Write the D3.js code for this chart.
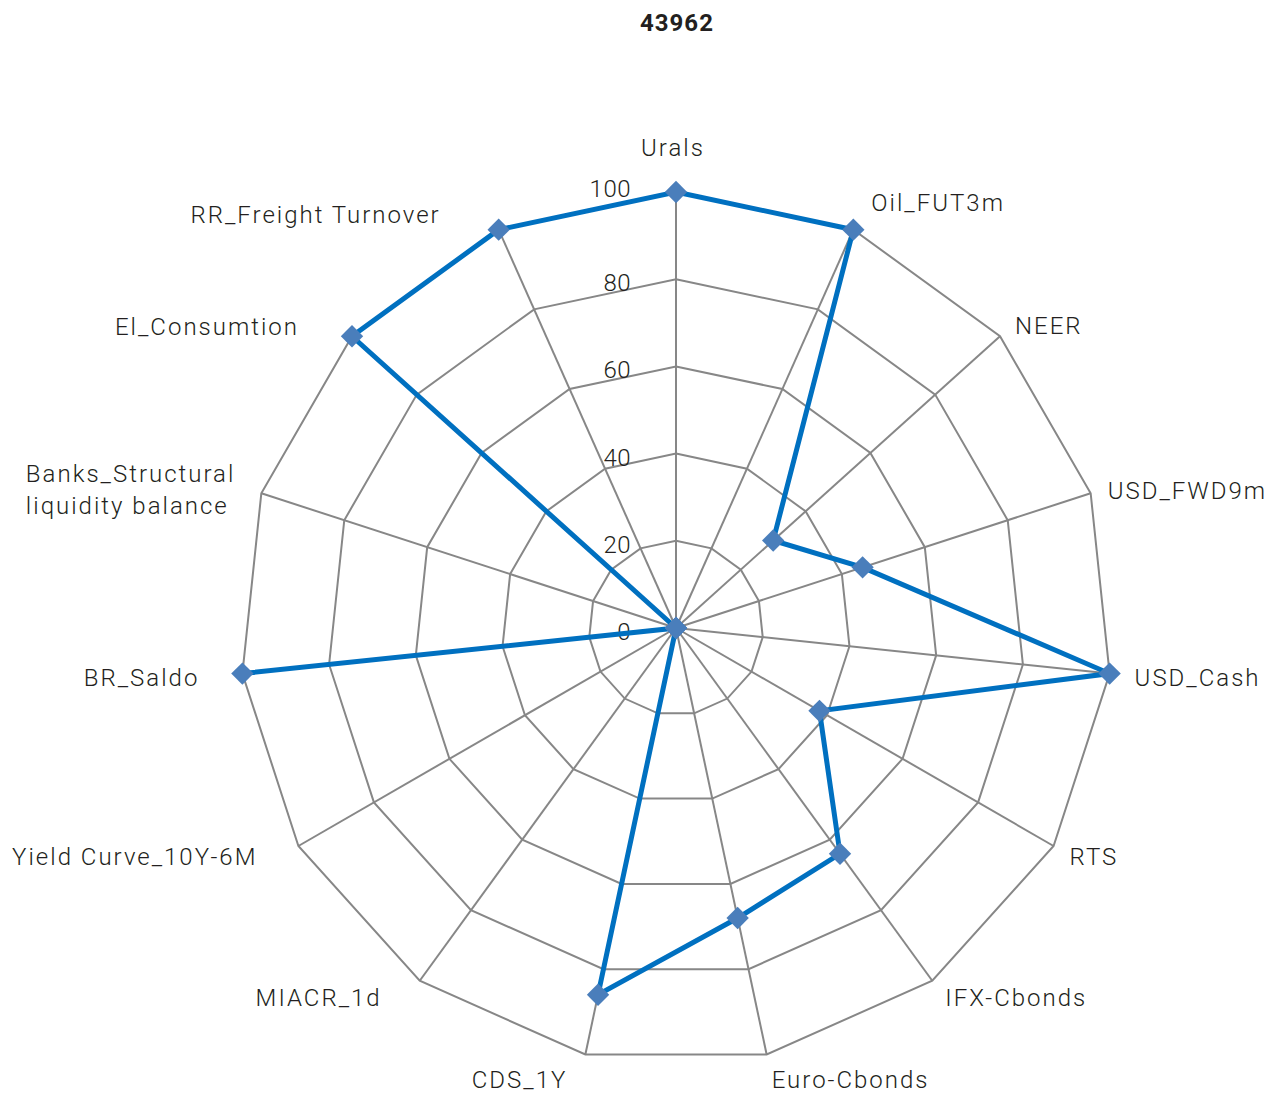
<!DOCTYPE html>
<html>
<head>
<meta charset="utf-8">
<script src="https://cdn.jsdelivr.net/npm/d3@7"></script>
<style>
  html, body { margin: 0; padding: 0; background: #fff; }
  svg text { font-family: Roboto, "Noto Sans", sans-serif; fill: #231f20; }
</style>
</head>
<body>
<svg id="chart" width="1285" height="1096"></svg>
<script>
const title = "43962";
const categories = [
  "Urals", "Oil_FUT3m", "NEER", "USD_FWD9m", "USD_Cash", "RTS", "IFX-Cbonds",
  "Euro-Cbonds", "CDS_1Y", "MIACR_1d", "Yield Curve_10Y-6M", "BR_Saldo",
  "Banks_Structural liquidity balance", "El_Consumtion", "RR_Freight Turnover"
];
const values = [100, 100, 30, 45, 100, 38, 64, 68, 86, 0, 0, 100, 0, 100, 100];
const tickValues = [0, 20, 40, 60, 80, 100];

// layout only: gap from the axis end to the label's near edge, and vertical shift of label centre
const labelGapX = [-4, 18, 15, 17, 25, 16, 13, 5, -20, -40, -43, -45, -28, -55, -60];
const labelGapY = [-44, -27, -10, -2, 4, 11, 17, 26, 26, 17, 11, 4, -3, -9, -15];

const svg = d3.select("#chart");
const cx = 676, cy = 628, R = 436;
const n = categories.length;
const r = d3.scaleLinear().domain([0, 100]).range([0, R]);
const ang = d3.scaleLinear().domain([0, n]).range([0, 2 * Math.PI]);

const px = (i, v) => cx + r(v) * Math.sin(ang(i));
const py = (i, v) => cy - r(v) * Math.cos(ang(i));

// title
svg.append("text")
  .attr("x", 677).attr("y", 31)
  .attr("text-anchor", "middle")
  .style("font-size", "24px").style("font-weight", "bold").style("letter-spacing", "1px")
  .text(title);

const g = svg.append("g");

// grid rings
tickValues.filter(t => t > 0).forEach(t => {
  const pts = d3.range(n).map(i => [px(i, t), py(i, t)]);
  g.append("polygon")
    .attr("points", pts.map(p => p.join(",")).join(" "))
    .attr("fill", "none").attr("stroke", "#878787").attr("stroke-width", 2);
});
// spokes
d3.range(n).forEach(i => {
  g.append("line")
    .attr("x1", cx).attr("y1", cy)
    .attr("x2", px(i, 100)).attr("y2", py(i, 100))
    .attr("stroke", "#878787").attr("stroke-width", 2);
});

// tick labels
tickValues.forEach((t, k) => {
  g.append("text")
    .attr("x", cx - 45).attr("y", cy - r(t) + (k === tickValues.length - 1 ? -3 : 4))
    .attr("text-anchor", "end").attr("dominant-baseline", "central")
    .style("font-size", "24px").style("font-weight", "300").style("letter-spacing", "0.5px")
    .text(t);
});

// category labels
d3.range(n).forEach(i => {
  const s = Math.sin(ang(i));
  const vx = px(i, 100), vy = py(i, 100);
  const name = categories[i];
  const sp = name.indexOf(" ");
  const lines = name.length > 25 ? [name.slice(0, sp), name.slice(sp + 1)] : [name];
  const lh = 32;
  const cyL = vy + labelGapY[i];
  const t = g.append("text")
    .style("font-size", "24px").style("font-weight", "300").style("letter-spacing", "2px")
    .attr("dominant-baseline", "central");
  lines.forEach((ln, k) => {
    t.append("tspan").attr("x", 0).attr("y", cyL + (k - (lines.length - 1) / 2) * lh).text(ln);
  });
  const w = d3.max(t.selectAll("tspan").nodes(), nd => nd.getComputedTextLength()) - 2;
  let x0;
  if (Math.abs(s) < 0.05) x0 = vx + labelGapX[i] - w / 2;
  else if (s > 0) x0 = vx + labelGapX[i];
  else x0 = vx + labelGapX[i] - w;
  t.selectAll("tspan").attr("x", x0);
});

// series
const line = d3.line().x(d => d[0]).y(d => d[1]).curve(d3.curveLinearClosed);
const pts = values.map((v, i) => [px(i, v), py(i, v)]);
g.append("path")
  .attr("d", line(pts))
  .attr("fill", "none").attr("stroke", "#0070c0").attr("stroke-width", 5)
  .attr("stroke-linejoin", "miter");

g.selectAll("path.marker").data(pts).join("path")
  .attr("class", "marker")
  .attr("d", d3.symbol().type(d3.symbolSquare).size(250))
  .attr("transform", d => `translate(${d[0]},${d[1]}) rotate(45)`)
  .attr("fill", "#4a7ebb");
</script>
</body>
</html>
